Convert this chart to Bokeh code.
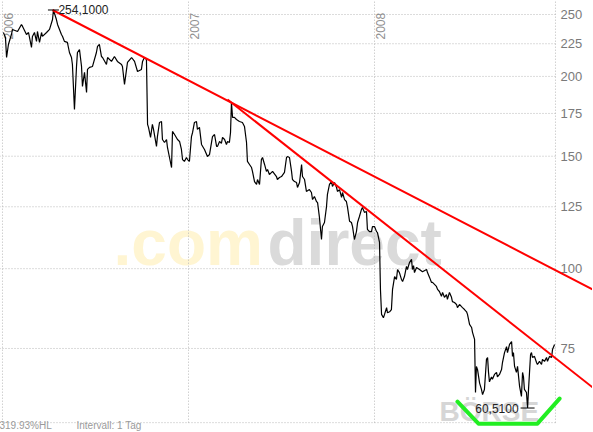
from math import pi
from bokeh.plotting import figure
from bokeh.models import Range1d, Label
from bokeh.core.properties import value
from bokeh.embed import file_html
from bokeh.resources import INLINE

# ---- price series (decimal year, price) ----
dates = [
    2006.005, 2006.016, 2006.022, 2006.032, 2006.048, 2006.054, 2006.081, 2006.102, 2006.108, 2006.129,
    2006.140, 2006.156, 2006.161, 2006.172, 2006.183, 2006.188, 2006.199, 2006.210, 2006.215, 2006.237,
    2006.253, 2006.269, 2006.274, 2006.290, 2006.296, 2006.317, 2006.323, 2006.333, 2006.349, 2006.360,
    2006.371, 2006.376, 2006.387, 2006.398, 2006.403, 2006.414, 2006.425, 2006.430, 2006.441, 2006.452,
    2006.457, 2006.468, 2006.484, 2006.505, 2006.511, 2006.521, 2006.532, 2006.538, 2006.559, 2006.565,
    2006.586, 2006.602, 2006.618, 2006.640, 2006.645, 2006.656, 2006.667, 2006.672, 2006.694, 2006.710,
    2006.726, 2006.747, 2006.753, 2006.763, 2006.774, 2006.780, 2006.785, 2006.796, 2006.806, 2006.812,
    2006.828, 2006.833, 2006.844, 2006.855, 2006.860, 2006.871, 2006.882, 2006.887, 2006.898, 2006.909,
    2006.914, 2006.925, 2006.941, 2006.952, 2006.962, 2006.968, 2006.978, 2006.989, 2006.995, 2007.005,
    2007.016, 2007.022, 2007.032, 2007.043, 2007.048, 2007.059, 2007.070, 2007.086, 2007.102, 2007.113,
    2007.129, 2007.140, 2007.151, 2007.156, 2007.167, 2007.177, 2007.183, 2007.194, 2007.204, 2007.210,
    2007.220, 2007.226, 2007.231, 2007.237, 2007.247, 2007.258, 2007.274, 2007.290, 2007.301, 2007.312,
    2007.317, 2007.328, 2007.339, 2007.344, 2007.355, 2007.366, 2007.371, 2007.382, 2007.392, 2007.398,
    2007.409, 2007.419, 2007.425, 2007.435, 2007.452, 2007.473, 2007.478, 2007.489, 2007.500, 2007.516,
    2007.527, 2007.532, 2007.543, 2007.554, 2007.559, 2007.570, 2007.581, 2007.586, 2007.597, 2007.608,
    2007.613, 2007.624, 2007.634, 2007.650, 2007.661, 2007.667, 2007.677, 2007.688, 2007.694, 2007.704,
    2007.715, 2007.720, 2007.731, 2007.742, 2007.747, 2007.758, 2007.769, 2007.774, 2007.785, 2007.796,
    2007.801, 2007.812, 2007.823, 2007.828, 2007.839, 2007.849, 2007.855, 2007.866, 2007.876, 2007.882,
    2007.892, 2007.903, 2007.909, 2007.919, 2007.930, 2007.935, 2007.946, 2007.957, 2007.962, 2007.973,
    2007.984, 2007.989, 2008.000, 2008.011, 2008.016, 2008.027, 2008.032, 2008.038, 2008.048, 2008.054,
    2008.065, 2008.070, 2008.081, 2008.091, 2008.097, 2008.108, 2008.118, 2008.124, 2008.134, 2008.145,
    2008.151, 2008.161, 2008.172, 2008.177, 2008.188, 2008.199, 2008.204, 2008.210, 2008.215, 2008.226,
    2008.242, 2008.258, 2008.280, 2008.285, 2008.296, 2008.306, 2008.312, 2008.333, 2008.339, 2008.349,
    2008.360, 2008.366, 2008.376, 2008.387, 2008.392, 2008.403, 2008.414, 2008.419, 2008.430, 2008.441,
    2008.446, 2008.457, 2008.468, 2008.473, 2008.484, 2008.495, 2008.500, 2008.511, 2008.522, 2008.527,
    2008.538, 2008.543, 2008.548, 2008.554, 2008.565, 2008.575, 2008.581, 2008.591, 2008.602, 2008.608,
    2008.613, 2008.618, 2008.629, 2008.634, 2008.645, 2008.656, 2008.661, 2008.672, 2008.683, 2008.688,
    2008.699, 2008.710, 2008.715, 2008.726, 2008.737, 2008.742, 2008.747, 2008.753, 2008.763, 2008.769,
    2008.780, 2008.790, 2008.796, 2008.801, 2008.806, 2008.817, 2008.823, 2008.828, 2008.839, 2008.844,
    2008.849, 2008.860, 2008.871, 2008.876, 2008.887, 2008.898, 2008.903, 2008.914, 2008.925, 2008.930,
    2008.941, 2008.952, 2008.957, 2008.968,
]
prices = [
    234.3, 230.2, 214.1, 224.4, 232.6, 236.9, 235.2, 241.2, 239.5, 232.6,
    234.3, 222.0, 231.0, 234.3, 226.9, 235.2, 226.1, 234.3, 231.0, 234.3,
    236.9, 245.5, 254.1, 245.5, 241.2, 232.6, 231.0, 226.9, 226.1, 218.0,
    214.1, 208.8, 177.5, 207.3, 218.0, 220.4, 207.3, 192.9, 202.9, 188.8,
    205.1, 206.6, 207.3, 218.0, 222.8, 224.4, 214.9, 214.1, 208.8, 214.1,
    211.1, 214.9, 211.1, 208.8, 207.3, 194.3, 205.1, 210.3, 214.1, 211.1,
    203.6, 205.1, 211.1, 214.1, 212.6, 168.2, 166.4, 160.5, 168.2, 165.2,
    155.4, 161.0, 169.4, 170.0, 159.3, 157.6, 159.3, 154.8, 149.3, 144.0,
    164.0, 162.2, 159.3, 158.2, 153.7, 148.2, 147.2, 149.3, 148.2, 147.2,
    161.0, 163.4, 169.4, 170.0, 165.2, 166.4, 156.5, 153.7, 149.8, 150.9,
    161.0, 162.2, 155.4, 155.4, 158.2, 157.1, 160.5, 159.3, 156.5, 158.2,
    157.6, 163.4, 182.0, 172.5, 172.5, 171.2, 170.0, 169.4, 167.0, 157.6,
    147.2, 145.6, 144.0, 142.0, 136.9, 135.5, 137.9, 135.5, 148.2, 149.3,
    145.6, 142.0, 143.0, 140.4, 142.0, 139.4, 137.9, 138.9, 139.4, 141.5,
    149.3, 149.8, 149.3, 142.0, 137.9, 136.9, 136.4, 134.0, 136.4, 145.6,
    139.4, 137.9, 132.1, 133.0, 131.6, 128.3, 129.7, 127.4, 126.9, 120.3,
    111.1, 116.4, 118.1, 125.1, 130.7, 135.5, 136.9, 134.5, 136.4, 134.0,
    132.1, 133.0, 129.3, 131.6, 128.3, 127.4, 124.7, 118.6, 118.1, 116.4,
    111.1, 114.3, 118.1, 120.7, 123.8, 124.7, 122.5, 122.9, 115.2, 114.3,
    114.3, 116.4, 116.4, 114.3, 113.9, 109.9, 92.8, 84.8, 83.8, 84.8,
    86.9, 85.3, 85.6, 86.3, 92.8, 97.2, 96.2, 99.7, 98.6, 96.2,
    95.5, 97.2, 100.8, 99.7, 102.2, 103.4, 99.7, 101.1, 98.6, 100.4,
    99.7, 98.9, 99.7, 98.6, 96.9, 95.2, 95.2, 93.8, 92.8, 92.1,
    90.5, 91.8, 90.2, 91.1, 89.5, 91.8, 90.2, 88.8, 88.5, 87.9,
    86.9, 87.9, 87.2, 86.9, 86.3, 85.6, 84.8, 81.8, 80.9, 79.5,
    77.5, 64.0, 70.3, 69.5, 66.2, 64.7, 63.5, 64.7, 72.1, 72.6,
    68.8, 66.5, 67.7, 67.1, 68.3, 68.8, 67.7, 68.3, 69.5, 71.3,
    73.9, 75.5, 73.9, 76.1, 76.9, 72.9, 73.9, 70.3, 68.8, 70.3,
    65.4, 63.1, 68.8, 67.7, 64.7, 64.0, 60.51, 64.7, 73.4, 73.9,
    72.6, 72.9, 71.3, 70.8, 71.6, 70.8, 72.1, 71.6, 72.6, 71.6,
    72.9, 72.6, 74.7, 76.1,
]

peak_date, peak_price, peak_label = 2006.274, 254.1, "254,1000"
low_date, low_price, low_label = 2008.823, 60.51, "60,5100"

price_ticks = [75, 100, 125, 150, 175, 200, 225, 250]
price_tick_labels = ["75", "100", "125", "150", "175", "200", "225", "250"]
year_ticks = [2006, 2007, 2008]
year_labels = ["2006", "2007", "2008"]

trend1_x = [2006.269, 2009.172]
trend1_y = [254.1, 92.8]
trend2_x = [2007.210, 2009.172]
trend2_y = [184.0, 65.2]
bowl_x = [2008.446, 2008.559, 2008.876, 2008.995]
bowl_y = [61.9, 57.2, 57.2, 62.6]

x_start, x_end = 2005.984, 2009.172
chart_end = 2008.973
y_low, y_high = 55.6, 263.9
chart_bottom = 57.4

GRID = "#b8b8b8"
LABEL_FONT = value("Liberation Sans")

p = figure(width=593, height=432,
           x_range=Range1d(x_start, x_end), y_range=Range1d(y_low, y_high),
           y_axis_type="log", x_axis_location=None, y_axis_location=None,
           toolbar_location=None, output_backend="svg", min_border=0,
           outline_line_color=None, background_fill_color="white",
           border_fill_color="white", margin=(-1, 0, 0, -1))
p.grid.visible = False

# watermarks
p.add_layout(Label(x=114, y=189, x_units="screen", y_units="screen", text=".com",
                   text_font="Liberation Sans", text_font_style="bold",
                   text_font_size="64px", text_color="#fff5d2", text_baseline="alphabetic",
                   level="underlay"))
p.add_layout(Label(x=268, y=189, x_units="screen", y_units="screen", text="direct",
                   text_font="Liberation Sans", text_font_style="bold",
                   text_font_size="64px", text_color="#dadada", text_baseline="alphabetic",
                   level="underlay"))
p.add_layout(Label(x=440, y=20, x_units="screen", y_units="screen", text="BÖRSE",
                   text_font="Liberation Sans", text_font_style="bold",
                   text_font_size="28px", text_color="#d6d6d6", text_baseline="alphabetic",
                   level="underlay"))

# grid
p.segment(x0=x_start, y0=price_ticks, x1=chart_end, y1=price_ticks,
          line_color=GRID, line_width=1, line_dash="1 2")
p.segment(x0=year_ticks + [chart_end], y0=chart_bottom, x1=year_ticks + [chart_end], y1=y_high,
          line_color=GRID, line_width=1, line_dash="1 2")
p.segment(x0=x_start, y0=chart_bottom, x1=chart_end, y1=chart_bottom,
          line_color=GRID, line_width=1, line_dash="1 2")

# price axis labels (right)
p.text(x=chart_end, y=price_ticks, text=price_tick_labels, x_offset=5,
       text_align="left", text_baseline="middle", text_font=LABEL_FONT,
       text_font_size="13px", text_color="#7a7a7a")
# year labels (vertical)
p.text(x=year_ticks, y=y_high, text=year_labels, x_offset=2, y_offset=40, angle=pi / 2,
       text_align="left", text_baseline="top", text_font=LABEL_FONT,
       text_font_size="12px", text_color="#909090")

# price
p.line(dates, prices, line_color="black", line_width=1.2)

# trend lines
p.line(trend1_x, trend1_y, line_color="#ff0000", line_width=2)
p.line(trend2_x, trend2_y, line_color="#ff0000", line_width=2)
p.line(bowl_x, bowl_y, line_color="#22ee22", line_width=4, line_cap="round", line_join="round")

# high/low markers
p.scatter([peak_date], [peak_price], marker="dash", size=11, line_color="black", line_width=1)
p.text([peak_date], [peak_price], text=[peak_label], x_offset=5, text_align="left",
       text_baseline="middle", text_font=LABEL_FONT, text_font_size="12px", text_color="#222222")
p.scatter([low_date], [low_price], marker="dash", size=14, line_color="black", line_width=1)
p.text([low_date], [low_price], text=[low_label], x_offset=-9, text_align="right",
       text_baseline="middle", text_font=LABEL_FONT, text_font_size="12px", text_color="#222222")

# footer
p.add_layout(Label(x=0, y=6, x_units="screen", y_units="screen", text="319.93%HL",
                   text_font="Liberation Sans", text_font_size="10px", text_color="#9a9a9a",
                   text_baseline="alphabetic"))
p.add_layout(Label(x=77, y=6, x_units="screen", y_units="screen", text="Intervall: 1 Tag",
                   text_font="Liberation Sans", text_font_size="10px", text_color="#9a9a9a",
                   text_baseline="alphabetic"))

open("out.html", "w").write(file_html(p, INLINE))
